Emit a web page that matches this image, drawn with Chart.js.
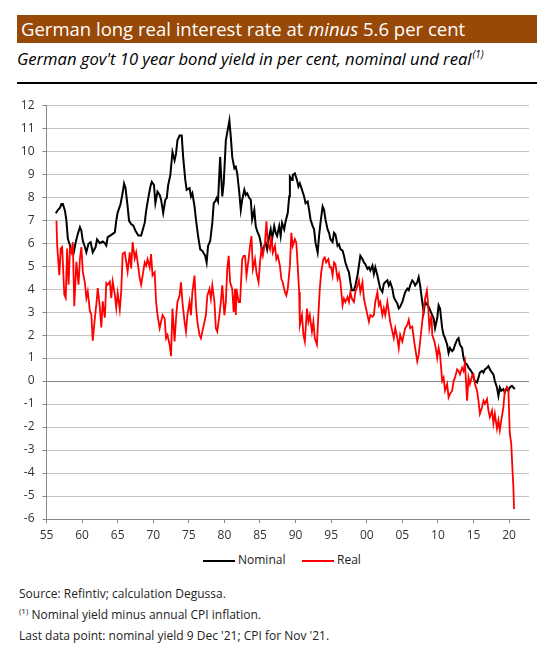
<!DOCTYPE html>
<html>
<head>
<meta charset="utf-8">
<script src="https://cdn.jsdelivr.net/npm/chart.js@4.4.1/dist/chart.umd.min.js"></script>
<style>
  body { margin: 0; width: 554px; height: 648px; background: #fff; position: relative; overflow: hidden;
         font-family: "Open Sans", "Noto Sans", sans-serif; color: #1a1a1a; }
  .abs { position: absolute; white-space: nowrap; }
  #title { left: 17px; top: 15px; width: 520px; height: 28px; background: #984807; color: #fff;
           font-size: 18.5px; line-height: 28px; padding-left: 4px; box-sizing: border-box; }
  #subtitle { left: 17px; top: 49px; font-size: 16.6px; font-style: italic; line-height: 20px; color: #000; }
  #subtitle sup { font-size: 10px; vertical-align: 7px; line-height: 0; margin-left: 1px; }
  #rule { left: 17px; top: 82px; width: 520px; height: 2px; background: #000; }
  #chartBox { left: 0; top: 90px; width: 554px; height: 460px; }
  .legline { height: 2px; }
  .note { font-size: 12px; line-height: 16px; color: #222; }
  .note sup { font-size: 8px; vertical-align: 5px; line-height: 0; }
</style>
</head>
<body>
<div id="title" class="abs">German long real interest rate at <i>minus</i> 5.6 per cent</div>
<div id="subtitle" class="abs">German gov't 10 year bond yield in per cent, nominal und real<sup>(1)</sup></div>
<div id="rule" class="abs"></div>
<div id="chartBox" class="abs"><canvas id="chart" width="554" height="460"></canvas></div>

<div class="abs legline" style="left:203px; top:560px; width:32px; background:#000;"></div>
<div class="abs note" style="left:238px; top:552px;">Nominal</div>
<div class="abs legline" style="left:302px; top:560px; width:32px; background:#ff0000;"></div>
<div class="abs note" style="left:337px; top:552px;">Real</div>

<div class="abs note" style="left:19px; top:586px;">Source: Refintiv; calculation Degussa.</div>
<div class="abs note" style="left:19px; top:607px;"><sup>(1)</sup> Nominal yield minus annual CPI inflation.</div>
<div class="abs note" style="left:19px; top:628px;">Last data point: nominal yield 9 Dec '21; CPI for Nov '21.</div>

<script>
// values (decimal year, per cent)
const nominalYears = [
  1956.3, 1956.6, 1956.9, 1957.1, 1957.3, 1957.6, 1957.8, 1958.0, 1958.3, 1958.5, 1958.8, 1959.1, 1959.4, 1959.7, 1959.9,
  1960.1, 1960.4, 1960.6, 1960.9, 1961.2, 1961.5, 1961.9, 1962.1, 1962.5, 1962.9, 1963.2, 1963.4, 1963.6, 1964.1, 1964.6,
  1964.8, 1965.0, 1965.4, 1965.7, 1965.9, 1966.1, 1966.4, 1966.6, 1966.9, 1967.2, 1967.5, 1967.9, 1968.3, 1968.8, 1969.0,
  1969.3, 1969.6, 1969.8, 1970.1, 1970.3, 1970.6, 1970.9, 1971.1, 1971.4, 1971.7, 1971.9, 1972.1, 1972.4, 1972.7, 1973.0,
  1973.2, 1973.4, 1973.7, 1974.0, 1974.2, 1974.5, 1974.7, 1975.1, 1975.3, 1975.5, 1975.8, 1976.0, 1976.3, 1976.6, 1976.9,
  1977.3, 1977.5, 1977.7, 1978.0, 1978.3, 1978.5, 1978.7, 1978.9, 1979.1, 1979.4, 1979.7, 1979.9, 1980.2, 1980.4, 1980.7,
  1980.9, 1981.1, 1981.4, 1981.6, 1981.8, 1982.1, 1982.3, 1982.5, 1982.8, 1983.0, 1983.2, 1983.5, 1983.7, 1983.9, 1984.2,
  1984.4, 1984.6, 1984.9, 1985.1, 1985.3, 1985.6, 1985.8, 1986.0, 1986.3, 1986.5, 1986.7, 1987.0, 1987.2, 1987.4, 1987.7,
  1987.9, 1988.1, 1988.4, 1988.6, 1988.9, 1989.1, 1989.2, 1989.5, 1989.6, 1989.9, 1990.2, 1990.4, 1990.6, 1990.9, 1991.2,
  1991.4, 1991.7, 1991.9, 1992.1, 1992.4, 1992.6, 1992.8, 1993.1, 1993.3, 1993.5, 1993.8, 1994.0, 1994.2, 1994.5, 1994.7,
  1994.9, 1995.2, 1995.4, 1995.6, 1995.9, 1996.1, 1996.3, 1996.6, 1996.8, 1997.0, 1997.3, 1997.5, 1997.7, 1997.9, 1998.2,
  1998.4, 1998.7, 1998.9, 1999.1, 1999.4, 1999.6, 1999.8, 2000.1, 2000.3, 2000.5, 2000.8, 2001.0, 2001.2, 2001.5, 2001.7,
  2001.9, 2002.2, 2002.4, 2002.6, 2002.9, 2003.1, 2003.3, 2003.6, 2003.8, 2004.0, 2004.3, 2004.5, 2004.7, 2005.0, 2005.2,
  2005.4, 2005.7, 2005.9, 2006.1, 2006.4, 2006.6, 2006.8, 2007.1, 2007.3, 2007.5, 2007.8, 2008.0, 2008.2, 2008.7, 2009.2,
  2009.4, 2009.6, 2009.9, 2010.1, 2010.3, 2010.6, 2010.8, 2011.0, 2011.3, 2011.5, 2011.7, 2012.0, 2012.2, 2012.4, 2012.7,
  2012.9, 2013.1, 2013.4, 2013.6, 2013.8, 2014.1, 2014.3, 2014.5, 2014.8, 2015.0, 2015.2, 2015.5, 2015.7, 2015.9, 2016.2,
  2016.4, 2016.6, 2016.9, 2017.1, 2017.3, 2017.6, 2017.8, 2018.0, 2018.3, 2018.5, 2018.7, 2018.9, 2019.2, 2019.4, 2019.7,
  2019.9, 2020.1, 2020.4, 2020.6, 2020.8
];
const nominalYield = [
  7.30, 7.44, 7.54, 7.70, 7.70, 7.40, 6.97, 6.19, 5.90, 5.60, 5.54, 6.04, 6.40, 6.69, 6.54,
  6.10, 5.83, 5.60, 5.97, 6.04, 5.60, 5.83, 6.16, 6.00, 6.07, 6.00, 5.90, 6.26, 6.36, 6.47,
  6.97, 7.33, 7.69, 8.19, 8.59, 8.40, 7.60, 6.97, 6.83, 6.76, 6.54, 6.33, 6.33, 6.88, 7.40,
  7.96, 8.46, 8.67, 8.53, 7.74, 8.24, 8.10, 7.89, 7.31, 7.89, 7.96, 8.53, 8.96, 9.96, 9.60,
  9.89, 10.47, 10.68, 10.68, 9.75, 8.75, 8.32, 8.39, 8.03, 8.17, 7.60, 7.03, 6.31, 5.73, 5.66,
  5.45, 5.16, 5.88, 6.09, 6.88, 7.74, 7.81, 7.96, 7.81, 9.75, 8.03, 8.60, 10.47, 10.82, 11.33,
  10.61, 9.75, 9.25, 9.32, 9.03, 8.17, 7.45, 7.89, 8.32, 8.10, 8.17, 7.96, 7.89, 7.03, 7.45,
  6.74, 6.52, 6.31, 6.02, 5.59, 5.88, 6.02, 5.73, 6.31, 6.60, 6.17, 6.74, 6.45, 6.31, 6.74,
  6.31, 6.88, 6.60, 6.95, 7.31, 8.03, 8.89, 8.75, 8.96, 9.03, 8.75, 8.46, 8.60, 8.32, 8.03,
  7.74, 7.81, 7.45, 7.03, 6.74, 6.60, 6.02, 5.59, 6.31, 6.88, 7.60, 7.45, 7.03, 6.60, 6.45,
  6.17, 6.05, 6.45, 6.38, 5.88, 5.95, 5.74, 5.67, 5.45, 5.16, 4.88, 4.73, 4.30, 3.95, 3.95,
  4.16, 4.59, 5.02, 5.45, 5.31, 5.16, 5.09, 4.88, 4.95, 4.81, 5.02, 4.66, 4.95, 4.59, 4.30,
  4.02, 3.87, 4.23, 4.30, 4.38, 4.16, 4.30, 4.02, 3.66, 3.52, 3.37, 3.16, 3.23, 3.44, 3.66,
  3.87, 4.02, 3.95, 4.16, 4.38, 4.30, 4.16, 4.30, 4.52, 4.16, 3.44, 3.01, 3.44, 3.23, 2.87,
  2.73, 2.30, 2.73, 3.30, 3.16, 2.30, 2.01, 1.87, 1.58, 1.22, 1.44, 1.30, 1.37, 1.58, 1.80,
  1.87, 1.58, 1.44, 1.01, 0.80, 0.72, 0.58, 0.51, 0.37, 0.15, 0.00, -0.06, 0.15, 0.37, 0.44,
  0.37, 0.51, 0.58, 0.65, 0.51, 0.37, 0.29, 0.00, -0.28, -0.64, -0.28, -0.42, -0.35, -0.49, -0.28,
  -0.42, -0.28, -0.21, -0.28, -0.35
];

const realYears = [
  1956.4, 1956.5, 1956.8, 1957.0, 1957.2, 1957.5, 1957.7, 1957.9, 1958.1, 1958.3, 1958.5, 1958.7, 1958.9, 1959.2, 1959.5,
  1959.7, 1959.9, 1960.1, 1960.4, 1960.6, 1960.8, 1961.1, 1961.3, 1961.5, 1961.8, 1962.0, 1962.2, 1962.5, 1962.7, 1962.9,
  1963.2, 1963.4, 1963.6, 1963.9, 1964.1, 1964.3, 1964.6, 1964.8, 1965.0, 1965.3, 1965.5, 1965.7, 1966.0, 1966.2, 1966.4,
  1966.7, 1966.9, 1967.1, 1967.4, 1967.6, 1967.9, 1968.1, 1968.3, 1968.6, 1968.8, 1969.0, 1969.2, 1969.5, 1969.7, 1969.9,
  1970.2, 1970.4, 1970.6, 1970.9, 1971.1, 1971.3, 1971.6, 1971.8, 1972.0, 1972.3, 1972.5, 1972.7, 1973.0, 1973.2, 1973.4,
  1973.7, 1973.9, 1974.1, 1974.4, 1974.6, 1974.8, 1975.1, 1975.3, 1975.5, 1975.8, 1976.0, 1976.2, 1976.5, 1976.7, 1976.9,
  1977.2, 1977.4, 1977.6, 1977.9, 1978.1, 1978.3, 1978.6, 1978.8, 1979.0, 1979.3, 1979.5, 1979.7, 1980.0, 1980.2, 1980.4,
  1980.6, 1980.8, 1981.1, 1981.3, 1981.5, 1981.6, 1981.7, 1982.0, 1982.2, 1982.5, 1982.7, 1982.9, 1983.1, 1983.4, 1983.6,
  1983.8, 1984.0, 1984.3, 1984.5, 1984.8, 1985.0, 1985.2, 1985.4, 1985.7, 1985.9, 1986.1, 1986.4, 1986.6, 1986.8, 1987.1,
  1987.3, 1987.5, 1987.8, 1988.0, 1988.2, 1988.5, 1988.7, 1988.9, 1989.2, 1989.4, 1989.6, 1989.9, 1990.1, 1990.3, 1990.5,
  1990.6, 1990.9, 1991.1, 1991.3, 1991.6, 1991.8, 1992.0, 1992.3, 1992.5, 1992.7, 1993.0, 1993.2, 1993.4, 1993.6, 1993.9,
  1994.1, 1994.3, 1994.6, 1994.8, 1995.0, 1995.2, 1995.4, 1995.6, 1995.9, 1996.1, 1996.3, 1996.6, 1996.8, 1997.0, 1997.3,
  1997.5, 1997.7, 1997.9, 1998.2, 1998.4, 1998.7, 1998.9, 1999.1, 1999.4, 1999.6, 1999.8, 2000.1, 2000.3, 2000.5, 2000.8,
  2001.0, 2001.2, 2001.5, 2001.7, 2001.9, 2002.2, 2002.4, 2002.6, 2002.9, 2003.1, 2003.3, 2003.6, 2003.8, 2004.0, 2004.3,
  2004.5, 2004.7, 2005.0, 2005.2, 2005.4, 2005.7, 2005.9, 2006.1, 2006.4, 2006.6, 2006.8, 2007.1, 2007.3, 2007.5, 2007.8,
  2008.0, 2008.2, 2008.45, 2008.6, 2008.8, 2009.1, 2009.2, 2009.5, 2009.7, 2009.9, 2010.1, 2010.3, 2010.6, 2010.8, 2011.0,
  2011.3, 2011.5, 2011.7, 2012.0, 2012.2, 2012.4, 2012.7, 2012.9, 2013.1, 2013.4, 2013.6, 2013.8, 2014.1, 2014.3, 2014.5,
  2014.8, 2015.0, 2015.2, 2015.5, 2015.7, 2015.9, 2016.2, 2016.4, 2016.6, 2016.9, 2017.1, 2017.3, 2017.6, 2017.8, 2018.0,
  2018.3, 2018.5, 2018.7, 2018.9, 2019.2, 2019.4, 2019.7, 2019.9, 2020.1, 2020.3, 2020.5, 2020.6, 2020.7
];
const realYield = [
  6.97, 5.90, 4.61, 5.76, 5.83, 3.76, 3.61, 5.76, 4.19, 5.76, 5.60, 6.04, 3.26, 5.19, 4.19,
  5.33, 5.83, 4.76, 4.26, 3.61, 3.90, 3.04, 2.90, 1.76, 2.76, 3.33, 4.04, 3.19, 2.33, 3.47,
  2.76, 4.26, 4.19, 4.33, 3.61, 4.33, 3.76, 3.19, 3.83, 3.11, 3.90, 5.54, 5.60, 5.19, 4.76,
  5.60, 4.90, 6.04, 5.33, 5.60, 4.97, 4.47, 4.19, 4.76, 5.16, 5.02, 5.30, 4.95, 5.52, 4.59,
  4.73, 3.44, 2.87, 2.30, 2.58, 2.87, 2.72, 1.86, 2.00, 1.58, 1.08, 3.15, 1.72, 2.72, 3.44,
  3.72, 4.30, 3.44, 2.58, 2.15, 2.87, 3.44, 2.87, 3.87, 4.59, 3.30, 2.58, 2.00, 1.86, 2.15,
  2.58, 2.87, 3.72, 4.01, 3.58, 4.16, 3.44, 2.30, 2.15, 2.87, 3.44, 4.16, 2.87, 3.44, 4.87,
  5.45, 4.30, 4.01, 3.01, 4.01, 2.87, 4.01, 3.44, 3.44, 5.30, 5.45, 5.45, 4.59, 5.30, 5.88,
  6.31, 4.87, 5.30, 4.73, 4.30, 5.16, 5.73, 5.45, 6.02, 6.95, 6.02, 5.73, 6.31, 5.59, 5.88,
  5.30, 5.45, 5.02, 4.44, 4.30, 3.87, 3.72, 4.01, 5.02, 6.45, 5.88, 6.17, 6.02, 5.02, 3.87,
  2.44, 2.87, 2.01, 1.72, 3.15, 2.58, 2.87, 2.15, 2.58, 1.86, 1.58, 2.87, 4.01, 4.73, 5.30,
  5.38, 5.16, 5.30, 4.95, 4.95, 4.59, 5.16, 5.09, 4.45, 4.66, 4.30, 3.30, 3.59, 3.44, 3.66,
  3.44, 3.87, 3.59, 3.44, 3.87, 4.16, 4.38, 3.87, 4.30, 3.59, 3.30, 2.87, 2.58, 2.87, 2.80,
  2.87, 3.44, 3.87, 3.30, 3.44, 2.87, 3.16, 2.87, 3.44, 3.01, 2.58, 2.15, 1.87, 2.30, 1.87,
  1.44, 2.01, 1.72, 2.01, 2.30, 2.44, 2.66, 2.30, 2.37, 1.87, 1.44, 0.86, 1.15, 1.72, 2.58,
  3.16, 3.59, 3.94, 3.44, 2.30, 2.87, 2.01, 1.73, 1.44, 1.01, 1.44, 1.15, 0.00, 0.15, -0.42,
  -0.13, -0.71, -0.56, -0.42, 0.00, 0.15, 0.51, 0.44, 0.29, 0.58, 0.44, 0.80, -0.85, 0.15, -0.13,
  0.22, 0.29, -0.13, -0.42, -0.85, -1.42, -1.14, -0.85, -0.99, -0.78, -1.28, -1.57, -1.28, -1.85, -1.42,
  -2.07, -1.71, -2.14, -1.71, -1.14, -0.42, -0.28, -0.35, -2.28, -2.71, -4.00, -4.57, -5.57
];

const xTickYears = [1955, 1960, 1965, 1970, 1975, 1980, 1985, 1990, 1995, 2000, 2005, 2010, 2015, 2020];
const xTickLabels = ["55", "60", "65", "70", "75", "80", "85", "90", "95", "00", "05", "10", "15", "20"];
const yTickValues = [-6, -5, -4, -3, -2, -1, 0, 1, 2, 3, 4, 5, 6, 7, 8, 9, 10, 11, 12];

const nominalPts = nominalYears.map((x, i) => ({ x: x, y: nominalYield[i] }));
const realPts = realYears.map((x, i) => ({ x: x, y: realYield[i] }));

const tickFont = { family: "Open Sans", size: 12 };

new Chart(document.getElementById("chart"), {
  type: "line",
  data: {
    datasets: [
      { label: "Nominal", data: nominalPts, borderColor: "#000000", borderWidth: 2, pointRadius: 0, order: 1 },
      { label: "Real", data: realPts, borderColor: "#ff0000", borderWidth: 1.8, pointRadius: 0, order: 0 }
    ]
  },
  options: {
    responsive: false,
    animation: false,
    layout: { padding: { left: 0, right: 25, top: 11.7, bottom: 0 } },
    plugins: { legend: { display: false }, tooltip: { enabled: false } },
    scales: {
      x: {
        type: "linear",
        min: 1955,
        max: 2022.8,
        afterBuildTicks: s => { s.ticks = xTickYears.map(v => ({ value: v })); },
        afterFit: s => { s.height = 31; },
        grid: { drawOnChartArea: false, drawTicks: true, tickLength: 4, color: "#888" },
        border: { color: "#888", width: 1 },
        ticks: {
          callback: (v, i) => xTickLabels[i],
          color: "#333", font: tickFont, maxRotation: 0, autoSkip: false, padding: 5
        }
      },
      y: {
        min: -6,
        max: 12,
        afterBuildTicks: s => { s.ticks = yTickValues.map(v => ({ value: v })); },
        afterFit: s => { s.width = 46.5; },
        grid: {
          color: c => (c.tick && c.tick.value === 0 ? "#8a8a8a" : "#c4c4c4"),
          tickColor: "#888", tickLength: 4
        },
        border: { color: "#888", width: 1 },
        ticks: { color: "#333", font: tickFont, padding: 8 }
      }
    }
  }
});
</script>
</body>
</html>
